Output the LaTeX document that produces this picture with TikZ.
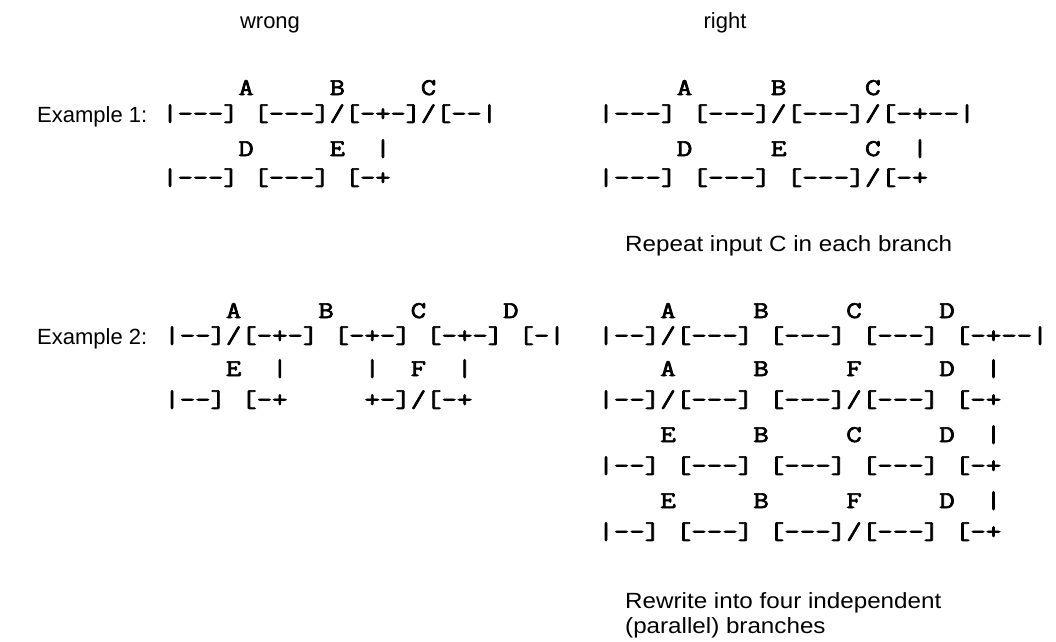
\documentclass[tikz,border=0pt]{standalone}
\usepackage{fontspec}
\usepackage{graphicx}
\setmonofont{Latin Modern Mono}[FakeBold=2.5]
\newfontfamily\hv{Liberation Sans}
\newcommand\ladtxt[2]{\scalebox{#1}[1]{\ttfamily\fontsize{24}{24}\selectfont #2}}
\newcommand\lA[1]{\ladtxt{1.2302}{#1}}
\newcommand\lB[1]{\ladtxt{1.2698}{#1}}
\newcommand\lC[1]{\ladtxt{1.246}{#1}}
\newcommand\lD[1]{\ladtxt{1.254}{#1}}
\newcommand\captxt[1]{\scalebox{1.1}[1]{#1}}
\begin{document}
\begin{tikzpicture}[x=1pt,y=-1pt,
  lad/.style={inner sep=0pt, anchor=base west},
  lab/.style={inner sep=0pt, anchor=base west, font=\hv\fontsize{22}{22}\selectfont},
  head/.style={inner sep=0pt, anchor=base, font=\hv\fontsize{22}{22}\selectfont}]
\useasboundingbox (0,0) rectangle (1056,641);
% headings
\node[head] (hwrong) at (270,28) {wrong};
\node[head] (hright) at (725,28) {right};
% Example labels
\node[lab] (ex1) at (37,122) {Example 1:};
\node[lab] (ex2) at (37,344) {Example 2:};
% Example 1 wrong
\node[lad] (w1a) at (162.25,95)  {\lA{~~~~~A~~~~~B~~~~~C}};
\node[lad] (w1b) at (162.25,121) {\lA{|---]~[---]/[-+-]/[--|}};
\node[lad] (w1c) at (162.25,156) {\lA{~~~~~D~~~~~E~~|}};
\node[lad] (w1d) at (162.25,185) {\lA{|---]~[---]~[-+}};
% Example 1 right
\node[lad] (r1a) at (598,95)  {\lB{~~~~~A~~~~~B~~~~~C}};
\node[lad] (r1b) at (598,121) {\lB{|---]~[---]/[---]/[-+--|}};
\node[lad] (r1c) at (598,156) {\lB{~~~~~D~~~~~E~~~~~C~~|}};
\node[lad] (r1d) at (598,185) {\lB{|---]~[---]~[---]/[-+}};
\node[lab] (cap1) at (625,251) {\captxt{Repeat input C in each branch}};
% Example 2 wrong
\node[lad] (w2a) at (164.15,318) {\lC{~~~~A~~~~~B~~~~~C~~~~~D}};
\node[lad] (w2b) at (164.15,343) {\lC{|--]/[-+-]~[-+-]~[-+-]~[-|}};
\node[lad] (w2c) at (164.15,376) {\lC{~~~~E~~|~~~~~|~~F~~|}};
\node[lad] (w2d) at (164.15,407) {\lC{|--]~[-+~~~~~+-]/[-+}};
% Example 2 right
\node[lad] (r2a) at (598.1,318) {\lD{~~~~A~~~~~B~~~~~C~~~~~D}};
\node[lad] (r2b) at (598.1,343) {\lD{|--]/[---]~[---]~[---]~[-+--|}};
\node[lad] (r2c) at (598.1,376) {\lD{~~~~A~~~~~B~~~~~F~~~~~D~~|}};
\node[lad] (r2d) at (598.1,407) {\lD{|--]/[---]~[---]/[---]~[-+}};
\node[lad] (r2e) at (598.1,442) {\lD{~~~~E~~~~~B~~~~~C~~~~~D~~|}};
\node[lad] (r2f) at (598.1,473) {\lD{|--]~[---]~[---]~[---]~[-+}};
\node[lad] (r2g) at (598.1,508) {\lD{~~~~E~~~~~B~~~~~F~~~~~D~~|}};
\node[lad] (r2h) at (598.1,539) {\lD{|--]~[---]~[---]/[---]~[-+}};
\node[lab] (cap2a) at (625,608) {\captxt{Rewrite into four independent}};
\node[lab] (cap2b) at (625,633) {\captxt{(parallel) branches}};
\end{tikzpicture}
\end{document}
